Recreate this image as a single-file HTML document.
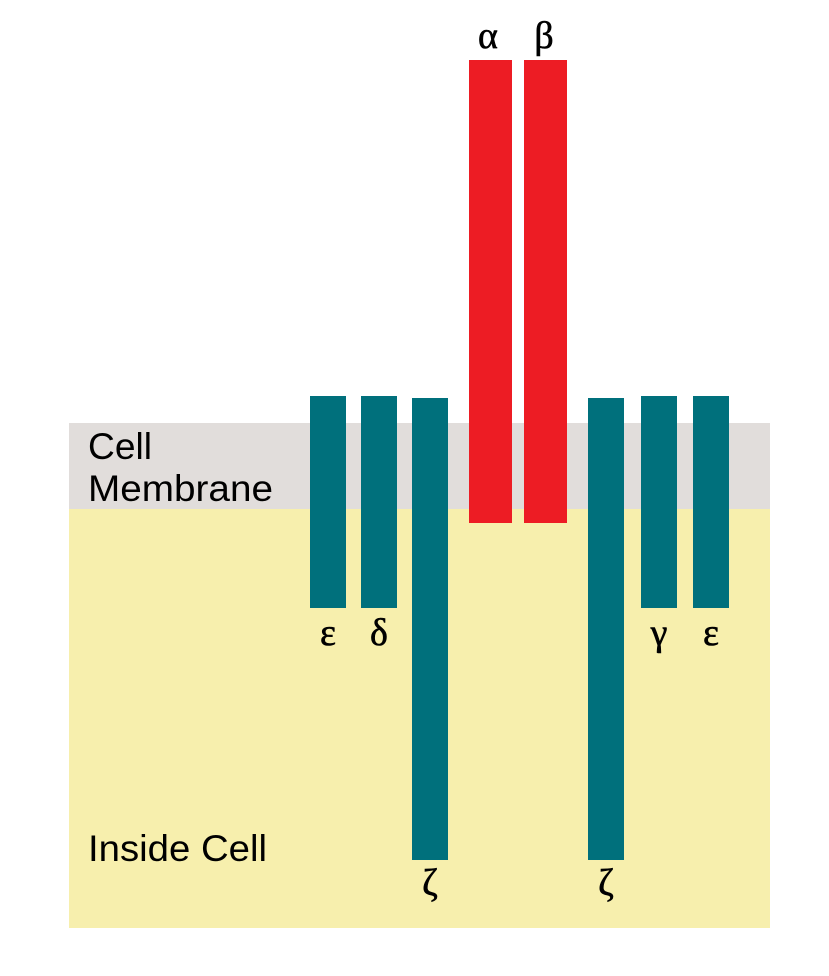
<!DOCTYPE html>
<html><head><meta charset="utf-8"><style>
html,body{margin:0;padding:0;background:#fff;width:829px;height:976px;overflow:hidden}
svg{display:block}
.s{font-family:"Liberation Sans",sans-serif;font-size:37px;fill:#000}
.g{font-family:"Liberation Serif","DejaVu Serif",serif;font-size:38px;fill:#000;text-anchor:middle;stroke:#000;stroke-width:0.6}
</style></head><body>
<svg width="829" height="976" viewBox="0 0 829 976" xmlns="http://www.w3.org/2000/svg">
<rect x="69" y="423" width="701" height="86" fill="#e1dddb"/>
<rect x="69" y="509" width="701" height="419" fill="#f7efad"/>
<g fill="#00707c">
<rect x="310" y="396" width="36" height="212"/>
<rect x="361" y="396" width="36" height="212"/>
<rect x="412" y="398" width="36" height="462"/>
<rect x="588" y="398" width="36" height="462"/>
<rect x="641" y="396" width="36" height="212"/>
<rect x="693" y="396" width="36" height="212"/>
</g>
<g fill="#ed1c24">
<rect x="469" y="60" width="43" height="463"/>
<rect x="524" y="60" width="43" height="463"/>
</g>
<text class="s" x="88" y="459" textLength="64" lengthAdjust="spacingAndGlyphs">Cell</text>
<text class="s" x="88" y="501" textLength="185" lengthAdjust="spacingAndGlyphs">Membrane</text>
<text class="s" x="88" y="861" textLength="179" lengthAdjust="spacingAndGlyphs">Inside Cell</text>
<text class="g" x="488" y="48">α</text>
<text class="g" x="544" y="48">β</text>
<text class="g" x="328" y="645">ε</text>
<text class="g" x="379" y="645">δ</text>
<text class="g" x="659" y="645">γ</text>
<text class="g" x="711" y="645">ε</text>
<text class="g" x="430" y="895">ζ</text>
<text class="g" x="606" y="895">ζ</text>
</svg>
</body></html>
